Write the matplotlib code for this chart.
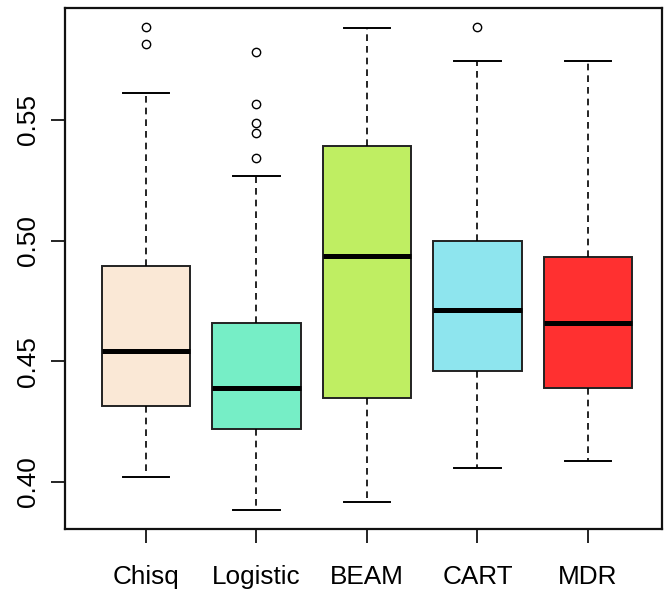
import matplotlib
matplotlib.use("Agg")
import matplotlib.pyplot as plt

plt.rcParams['font.family'] = ['Liberation Sans', 'DejaVu Sans']

categories = ["Chisq", "Logistic", "BEAM", "CART", "MDR"]
whislo = [0.402, 0.3884, 0.3917, 0.4058, 0.4087]
q1 = [0.4315, 0.422, 0.4349, 0.446, 0.439]
med = [0.4544, 0.439, 0.4934, 0.4714, 0.466]
q3 = [0.4896, 0.4656, 0.539, 0.500, 0.493]
whishi = [0.561, 0.5267, 0.588, 0.5743, 0.5743]
fliers = [
    [0.5884, 0.5813],
    [0.5782, 0.5565, 0.5487, 0.5444, 0.5342],
    [],
    [0.5884],
    [],
]
colors = ["#FAE8D6", "#76EEC6", "#BFEE62", "#8EE5EE", "#FF3030"]
yticks = [0.40, 0.45, 0.50, 0.55]
ytick_labels = ["0.40", "0.45", "0.50", "0.55"]

stats = []
for i, name in enumerate(categories):
    stats.append(dict(label=name, whislo=whislo[i], q1=q1[i], med=med[i],
                      q3=q3[i], whishi=whishi[i], fliers=fliers[i]))

fig = plt.figure(figsize=(6.65, 5.97), dpi=100)
ax = fig.add_axes([65/665, (597-529)/597, (662-65)/665, (529-8)/597])

positions = list(range(1, len(categories) + 1))
bp = ax.bxp(stats, positions=positions, widths=0.8, capwidths=0.42,
            patch_artist=True, showfliers=True,
            boxprops=dict(edgecolor="#222222", linewidth=1.4),
            whiskerprops=dict(color="black", linestyle=(0, (4, 3)), linewidth=1.2),
            capprops=dict(color="black", linewidth=1.4),
            medianprops=dict(color="black", linewidth=3.6, solid_capstyle="butt"),
            flierprops=dict(marker="o", markerfacecolor="none", markeredgecolor="black",
                            markersize=6, markeredgewidth=1.0, linestyle="none"))
for patch, c in zip(bp["boxes"], colors):
    patch.set_facecolor(c)

ax.set_xlim(0.267, 5.67)
ax.set_ylim(0.3804, 0.5964)
ax.set_xticks(positions)
ax.set_xticklabels(categories, fontsize=18.8)
ax.set_yticks(yticks)
ax.set_yticklabels(ytick_labels, fontsize=18.8, rotation=90, va="center")
ax.tick_params(axis="both", direction="out", length=10, width=1.2, color="black")
ax.tick_params(axis="x", pad=16)
ax.tick_params(axis="y", pad=8)
for s in ax.spines.values():
    s.set_linewidth(1.6)
    s.set_color("#111111")

fig.savefig("out.png", dpi=100)
